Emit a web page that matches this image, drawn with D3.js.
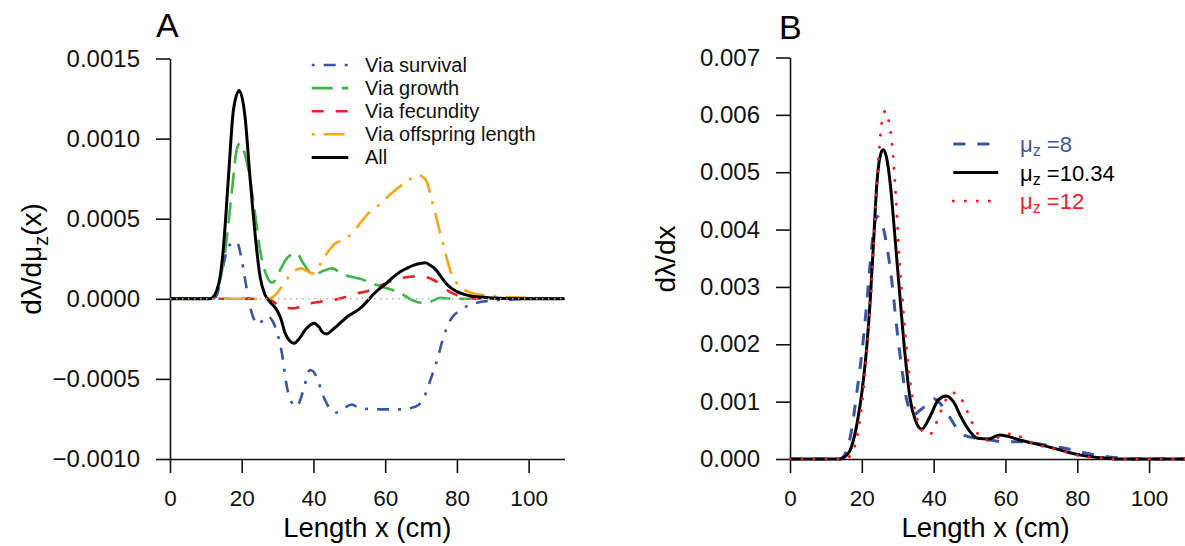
<!DOCTYPE html>
<html>
<head>
<meta charset="utf-8">
<script src="https://cdnjs.cloudflare.com/ajax/libs/d3/7.8.5/d3.min.js"></script>
<style>
  body { margin: 0; background: #fff; }
  svg { display: block; font-family: "Liberation Sans", Arial, sans-serif; }
  .axis path, .axis line { stroke: #111; stroke-width: 1.6; }
  .axis text { fill: #111; }
</style>
</head>
<body>
<div id="chart"></div>
<script>
// ---- Panel A data, values in units of 1e-4 ----
const survival = [[0,0],[12,0],[13,0.2],[14.4,1.6],[16.3,3.26],[17.7,3.5],[18.6,3.56],[20,2.42],[21.6,0.34],[22.8,-0.9],[24.7,-1.6],[26.3,-1.2],[27.4,-1.1],[28.6,-1.4],[30,-2.2],[31.2,-3.4],[32.6,-5.5],[34,-6.5],[35.3,-6.73],[36.5,-6.2],[37.3,-5.6],[39,-4.44],[40,-4.55],[40.9,-4.9],[42.8,-6.1],[44.6,-6.85],[46.5,-7.1],[48.4,-6.85],[50.7,-6.6],[53,-6.84],[58.6,-6.9],[64.2,-6.9],[68.4,-6.74],[70.7,-6.22],[72.6,-5.08],[74.5,-3.8],[76.3,-2.36],[78.2,-1.32],[81,-0.7],[84.7,-0.3],[90.3,-0.1],[95,-0.05],[100,0],[110,0]];
const growth = [[0,0],[11,0],[12,0.05],[13,0.4],[14,1.2],[15.3,2.84],[17.2,6.58],[18.6,9.3],[19.5,9.7],[20.5,9.3],[21.9,8.0],[23.7,5.33],[25.1,3.06],[27,1.4],[28.4,1.0],[29.5,1.2],[30.7,1.79],[33,2.62],[35.3,2.84],[37.2,2.2],[40,1.5],[42.8,1.75],[45.1,1.9],[48.4,1.5],[50.5,1.38],[53,1.25],[56.8,0.92],[60.5,0.66],[64.2,0.35],[66.5,0.05],[68.9,-0.2],[71.6,-0.26],[73.5,-0.1],[75.3,0.06],[78,0.02],[80,0],[110,0]];
const fecundity = [[0,0],[27,0],[28,-0.05],[29,-0.2],[30.5,-0.45],[32,-0.55],[34.4,-0.6],[37,-0.45],[40,-0.25],[43,-0.15],[45.6,-0.08],[48.4,0.08],[52.1,0.33],[55.8,0.54],[57.7,0.75],[60,0.95],[62.3,1.17],[64.5,1.3],[66.9,1.38],[69,1.4],[71.6,1.34],[73,1.22],[74.4,1.06],[75.8,0.8],[77.2,0.55],[78.6,0.37],[80,0.23],[82,0.12],[83.8,0.07],[87,0.02],[90,0],[110,0]];
const offspring = [[0,0],[27.5,0],[28.6,0.1],[29.8,0.34],[32.1,1.07],[34.4,1.69],[36.7,1.9],[38.1,1.75],[40,1.58],[41.4,1.99],[43.7,2.82],[46,3.45],[48.4,3.67],[50.7,4.08],[53,4.71],[55.8,5.44],[57.7,5.75],[62.3,6.69],[66,7.31],[69.3,7.73],[70.5,7.6],[71.6,7.31],[73,6.17],[74.9,4.5],[76.8,2.84],[78.6,1.48],[81,0.75],[84.7,0.33],[90.3,0.17],[99.6,0.06],[110,0]];
const allA = [[0,0],[11,0],[12,0.1],[13,0.5],[14,1.4],[14.9,3.2],[16.3,7.6],[17.7,11.8],[19.3,13.0],[20.9,11.4],[22.3,7.6],[23.7,4.1],[25.1,1.4],[26.5,0.25],[27.9,-0.2],[29.8,-0.7],[31,-1.3],[32.1,-2.15],[33.3,-2.6],[34.6,-2.78],[36,-2.5],[37.5,-2.0],[39,-1.65],[40.2,-1.53],[41.5,-1.75],[42.6,-2.1],[43.7,-2.2],[45,-2.0],[46.5,-1.7],[48,-1.4],[49.5,-1.1],[51,-0.9],[53,-0.6],[55,-0.15],[56.8,0.3],[58.5,0.65],[60.5,1.0],[62.5,1.4],[64.2,1.69],[66,1.9],[68,2.1],[70,2.22],[71.2,2.25],[72.5,2.1],[74.2,1.8],[75.5,1.4],[77,0.96],[78.5,0.65],[80,0.45],[82,0.28],[84,0.18],[88,0.08],[92,0.03],[100,0],[110,0]];
const ticksAy = [-10, -5, 0, 5, 10, 15];
const ticksX = [0, 20, 40, 60, 80, 100];
const legendA = ["Via survival", "Via growth", "Via fecundity", "Via offspring length", "All"];

// ---- Panel B data, values in units of 1e-3 ----
const mu8 = [[0,0],[14,0],[15,0.05],[16,0.2],[16.8,0.39],[18.7,1.2],[20.1,1.9],[21.3,2.66],[22.4,3.47],[23.3,4.0],[24.2,4.23],[25.6,4.11],[27,3.71],[28.4,3.07],[29.8,2.25],[31.2,1.55],[32.5,1.03],[34.4,0.77],[36.2,0.85],[38.1,0.95],[40,1.05],[41.8,0.97],[44.1,0.77],[46.4,0.54],[48.3,0.42],[52,0.36],[55.7,0.33],[59.4,0.3],[64.1,0.3],[68.7,0.27],[73.3,0.22],[77.9,0.17],[82.6,0.1],[87.2,0.05],[91.5,0.02],[96,0],[110,0]];
const mu1034 = [[0,0],[14,0],[15,0.03],[16,0.08],[16.8,0.16],[18.7,0.63],[20.1,1.2],[21.3,1.9],[22.4,2.83],[23.3,3.82],[24.2,4.81],[25.1,5.28],[25.9,5.39],[26.8,5.28],[27.9,4.81],[29.3,3.82],[30.7,2.77],[32.1,1.78],[33.5,1.03],[34.9,0.68],[36.7,0.52],[39,0.74],[41.3,1.03],[43.5,1.1],[45.5,1.0],[47.8,0.71],[50.1,0.48],[52.3,0.36],[55.2,0.35],[58.5,0.42],[60.3,0.4],[64.1,0.33],[68.7,0.26],[73.3,0.19],[77.9,0.11],[82.6,0.05],[87.2,0.02],[92,0],[110,0]];
const mu12 = [[0,0],[15,0],[16,0.02],[17.3,0.1],[18.7,0.4],[20.1,1.0],[21.3,1.8],[22.4,2.7],[23.3,3.7],[24.2,4.8],[25,5.5],[25.7,5.92],[26.6,6.07],[27.5,5.89],[28.4,5.51],[29,5.04],[29.8,4.23],[30.5,3.41],[31.4,2.72],[32.4,1.96],[33.5,1.32],[34.4,0.97],[36.7,0.5],[38.8,0.42],[40.4,0.58],[41.6,0.77],[42.9,0.96],[44.6,1.14],[46,1.15],[47.2,1.1],[48.8,0.91],[50.1,0.72],[51.5,0.53],[53.4,0.36],[56.2,0.32],[59.2,0.42],[62.5,0.44],[65.5,0.33],[68.5,0.26],[71.8,0.2],[74.9,0.16],[77.9,0.1],[81.4,0.05],[84.5,0.03],[88,0.01],[92,0],[110,0]];
const ticksBy = [0, 1, 2, 3, 4, 5, 6, 7];
const legendB = ["8", "10.34", "12"];

const W = 1185, H = 546;
const svg = d3.select("#chart").append("svg").attr("width", W).attr("height", H);

const blue = "#3a55a5", green = "#3fb44a", red = "#ee2027", orange = "#f9a51a";

// scales
const xA = d3.scaleLinear().domain([0, 110]).range([170, 564.5]);
const yA = d3.scaleLinear().domain([-10, 15]).range([459, 58.5]);
const xB = d3.scaleLinear().domain([0, 110]).range([790, 1185]);
const yB = d3.scaleLinear().domain([0, 7]).range([459, 57.5]);

function drawAxes(x, y, yTicks, fmt) {
  const gx = svg.append("g").attr("class", "axis")
    .attr("transform", `translate(0,${y.range()[0]})`)
    .call(d3.axisBottom(x).tickValues(ticksX).tickSize(14).tickSizeOuter(0).tickPadding(17.5));
  gx.selectAll("text").style("font-size", "22.5px");
  const gy = svg.append("g").attr("class", "axis")
    .attr("transform", `translate(${x.range()[0]},0)`)
    .call(d3.axisLeft(y).tickValues(yTicks).tickSize(14).tickSizeOuter(0).tickPadding(16).tickFormat(fmt));
  gy.selectAll("text").style("font-size", "24px");
}

drawAxes(xA, yA, ticksAy, d => (d / 1e4).toFixed(4).replace("-", "\u2212"));
drawAxes(xB, yB, ticksBy, d => (d / 1e3).toFixed(3));

// panel A curves
const lineA = d3.line().x(d => xA(d[0])).y(d => yA(d[1])).curve(d3.curveMonotoneX);
const seriesA = [
  { data: survival, color: blue, dash: "3 9 12 9", w: 2.6 },
  { data: growth, color: green, dash: "21 9", w: 2.6 },
  { data: fecundity, color: red, dash: "12 12", w: 2.6 },
  { data: offspring, color: orange, dash: "3 9 21 9", w: 2.6 },
  { data: allA, color: "#000", dash: null, w: 3 }
];
seriesA.forEach(s => {
  svg.append("path").datum(s.data)
    .attr("d", lineA)
    .attr("fill", "none")
    .attr("stroke", s.color)
    .attr("stroke-width", s.w)
    .attr("stroke-dasharray", s.dash);
});

// zero reference line
svg.append("line")
  .attr("x1", xA(0)).attr("x2", xA(110))
  .attr("y1", yA(0)).attr("y2", yA(0))
  .attr("stroke", "#b0b0b0")
  .attr("stroke-width", 1.5)
  .attr("stroke-dasharray", "1.5 4.5");

// legend A
seriesA.forEach((s, i) => {
  const yy = 65 + i * 23.1;
  svg.append("line")
    .attr("x1", 311.7).attr("x2", 348.3).attr("y1", yy).attr("y2", yy)
    .attr("stroke", s.color).attr("stroke-width", s.w)
    .attr("stroke-dasharray", s.dash);
  svg.append("text")
    .attr("x", 365).attr("y", yy)
    .attr("dominant-baseline", "central")
    .style("font-size", "20px")
    .attr("fill", "#111")
    .text(legendA[i]);
});

// panel B curves
const lineB = d3.line().x(d => xB(d[0])).y(d => yB(d[1])).curve(d3.curveMonotoneX);
const seriesB = [
  { data: mu8, color: blue, dash: "12 12", cap: "butt" },
  { data: mu1034, color: "#000", dash: null, cap: "butt" },
  { data: mu12, color: red, dash: "0.1 11.9", cap: "round" }
];
seriesB.forEach(s => {
  svg.append("path").datum(s.data)
    .attr("d", lineB)
    .attr("fill", "none")
    .attr("stroke", s.color)
    .attr("stroke-width", 3)
    .attr("stroke-linecap", s.cap)
    .attr("stroke-dasharray", s.dash);
});

// legend B
seriesB.forEach((s, i) => {
  const yy = 144 + i * 28.5;
  svg.append("line")
    .attr("x1", 953.3).attr("x2", 998.3).attr("y1", yy).attr("y2", yy)
    .attr("stroke", s.color).attr("stroke-width", 3)
    .attr("stroke-linecap", s.cap)
    .attr("stroke-dasharray", s.dash);
  const t = svg.append("text")
    .attr("x", 1020).attr("y", yy)
    .attr("dominant-baseline", "central")
    .style("font-size", "22px")
    .attr("fill", s.color);
  t.append("tspan").text("\u03bc");
  t.append("tspan").attr("dy", 6).style("font-size", "16px").text("z");
  t.append("tspan").attr("dy", -6).text(" =" + legendB[i]);
});

// axis titles
svg.append("text")
  .attr("x", xA(55)).attr("y", 537)
  .attr("text-anchor", "middle").style("font-size", "27.5px")
  .text("Length x (cm)");
svg.append("text")
  .attr("x", (790 + 1185) / 2 - 2).attr("y", 537)
  .attr("text-anchor", "middle").style("font-size", "27.5px")
  .text("Length x (cm)");

const ytA = svg.append("text")
  .attr("transform", "translate(41,259) rotate(-90)")
  .attr("text-anchor", "middle").style("font-size", "28px");
ytA.append("tspan").text("d\u03bb/d\u03bc");
ytA.append("tspan").attr("dy", 7).style("font-size", "20px").text("z");
ytA.append("tspan").attr("dy", -7).text("(x)");

svg.append("text")
  .attr("transform", "translate(675,259) rotate(-90)")
  .attr("text-anchor", "middle").style("font-size", "28px")
  .text("d\u03bb/dx");

// panel letters
svg.append("text").attr("x", 156).attr("y", 37).style("font-size", "34px").text("A");
svg.append("text").attr("x", 779).attr("y", 39).style("font-size", "34px").text("B");
</script>
</body>
</html>
